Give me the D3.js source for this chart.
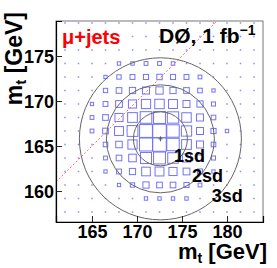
<!DOCTYPE html>
<html>
<head>
<meta charset="utf-8">
<script src="https://cdn.jsdelivr.net/npm/d3@7"></script>
<style>
  html, body { margin: 0; padding: 0; background: #fff; }
  svg { display: block; font-family: "Liberation Sans", Arial, sans-serif; font-weight: bold; }
</style>
</head>
<body>
<svg id="chart" width="277" height="268"></svg>
<script>
// bin centres (GeV)
var xCenters = [162, 163.5, 165, 166.5, 168, 169.5, 171, 172.5, 174, 175.5, 177, 178.5, 180, 181.5, 183];
var yCenters = [178.67, 177.17, 175.67, 174.17, 172.67, 171.17, 169.67, 168.17, 166.67, 165.17, 163.67, 162.17, 160.67, 159.17, 157.67];

// relative box size per bin, rows top -> bottom, columns left -> right
var boxRows = [
  [0.05, 0.05, 0.05, 0.06, 0.06, 0.07, 0.08, 0.08, 0.08, 0.07, 0.06, 0.06, 0.05, 0.05, 0.05],
  [0.05, 0.06, 0.06, 0.08, 0.10, 0.10, 0.12, 0.12, 0.10, 0.09, 0.08, 0.07, 0.06, 0.05, 0.05],
  [0.06, 0.08, 0.08, 0.10, 0.15, 0.15, 0.18, 0.15, 0.15, 0.12, 0.10, 0.08, 0.06, 0.06, 0.05],
  [0.06, 0.08, 0.08, 0.12, 0.25, 0.25, 0.28, 0.28, 0.26, 0.22, 0.18, 0.12, 0.10, 0.08, 0.06],
  [0.06, 0.08, 0.15, 0.24, 0.32, 0.36, 0.38, 0.40, 0.38, 0.36, 0.28, 0.20, 0.12, 0.10, 0.06],
  [0.05, 0.10, 0.20, 0.32, 0.42, 0.46, 0.52, 0.54, 0.46, 0.42, 0.34, 0.24, 0.12, 0.10, 0.06],
  [0.06, 0.10, 0.24, 0.36, 0.50, 0.60, 0.68, 0.70, 0.66, 0.52, 0.46, 0.30, 0.18, 0.12, 0.06],
  [0.06, 0.12, 0.28, 0.42, 0.60, 0.72, 0.86, 0.88, 0.84, 0.70, 0.52, 0.34, 0.22, 0.12, 0.06],
  [0.06, 0.12, 0.28, 0.42, 0.66, 0.80, 0.95, 1.00, 0.92, 0.76, 0.52, 0.38, 0.25, 0.12, 0.07],
  [0.05, 0.08, 0.16, 0.34, 0.48, 0.68, 0.96, 1.00, 0.92, 0.72, 0.52, 0.34, 0.22, 0.12, 0.07],
  [0.05, 0.08, 0.10, 0.28, 0.42, 0.56, 0.82, 0.88, 0.78, 0.60, 0.46, 0.30, 0.20, 0.10, 0.06],
  [0.05, 0.06, 0.08, 0.24, 0.36, 0.46, 0.64, 0.66, 0.60, 0.50, 0.38, 0.24, 0.16, 0.09, 0.06],
  [0.05, 0.06, 0.07, 0.16, 0.24, 0.32, 0.46, 0.42, 0.42, 0.38, 0.28, 0.20, 0.12, 0.08, 0.06],
  [0.05, 0.05, 0.06, 0.08, 0.10, 0.16, 0.25, 0.25, 0.25, 0.25, 0.20, 0.12, 0.08, 0.07, 0.05],
  [0.05, 0.06, 0.06, 0.07, 0.08, 0.10, 0.12, 0.12, 0.12, 0.10, 0.08, 0.06, 0.05, 0.05, 0.05]
];

var binWidth = 1.5;
var fitCenter = [172.6, 165.8];
var sdRadii = [3, 6, 9];
var sdLabels = ['1sd', '2sd', '3sd'];
var sdLabelPos = [[174.1, 163.23], [176.1, 161.0], [178.3, 158.78]];
var diagonal = [161, 179.2];
var xMajor = [165, 170, 175, 180];
var yMajor = [160, 165, 170, 175];

var svg = d3.select('#chart');
var x = d3.scaleLinear().domain([161, 184]).range([56, 263]);
var y = d3.scaleLinear().domain([156.56, 178.89]).range([222, 21]);

var plot = svg.append('g');
plot.append('clipPath').attr('id', 'clip')
  .append('rect').attr('x', 56).attr('y', 21).attr('width', 207).attr('height', 201);

// boxes
var cells = [];
boxRows.forEach(function(row, r) {
  row.forEach(function(v, c) { cells.push({ x: xCenters[c], y: yCenters[r], v: v }); });
});
var bw = x(161 + binWidth) - x(161);
var boxes = plot.append('g').attr('clip-path', 'url(#clip)');
boxes.selectAll('rect.box').data(cells).enter().append('rect')
  .attr('class', 'box')
  .each(function(d) {
    var s = d.v * bw;
    var sel = d3.select(this);
    if (s < 3) {
      s = 1.5;
      sel.attr('fill', '#8c8cff').attr('stroke', 'none');
    } else {
      sel.attr('fill', 'none').attr('stroke', '#7373f7').attr('stroke-width', 1);
    }
    sel.attr('x', x(d.x) - s / 2).attr('y', y(d.y) - s / 2)
      .attr('width', s).attr('height', s);
  });

// diagonal
plot.append('line')
  .attr('x1', x(diagonal[0])).attr('y1', y(diagonal[0]))
  .attr('x2', x(diagonal[1])).attr('y2', y(diagonal[1]))
  .attr('stroke', '#ff6a6a').attr('stroke-width', 1).attr('stroke-dasharray', '2,2')
  .attr('clip-path', 'url(#clip)');

// sigma circles
plot.selectAll('ellipse.sd').data(sdRadii).enter().append('ellipse')
  .attr('class', 'sd')
  .attr('cx', x(fitCenter[0])).attr('cy', y(fitCenter[1]))
  .attr('rx', function(r) { return x(161 + r) - x(161); })
  .attr('ry', function(r) { return y(160) - y(160 + r); })
  .attr('fill', 'none').attr('stroke', '#666').attr('stroke-width', 1)
  .attr('clip-path', 'url(#clip)');

// fit marker
var cx = x(fitCenter[0]), cy = y(fitCenter[1]);
plot.append('path').attr('d', 'M' + (cx - 2) + ',' + cy + 'H' + (cx + 2) + 'M' + cx + ',' + (cy - 2.5) + 'V' + (cy + 2.5))
  .attr('stroke', '#555').attr('stroke-width', 1);

// frame
svg.append('rect').attr('x', 56).attr('y', 21).attr('width', 207).attr('height', 201)
  .attr('fill', 'none').attr('stroke', '#777').attr('stroke-width', 1);

// axes
var gx = svg.append('g').attr('transform', 'translate(0,222)');
gx.call(d3.axisBottom(x).tickValues(d3.range(161, 185)).tickSize(-3).tickFormat(''));
gx.call(d3.axisBottom(x).tickValues(xMajor).tickSize(-6).tickFormat(d3.format('d')));
var gy = svg.append('g').attr('transform', 'translate(56,0)');
gy.call(d3.axisLeft(y).tickValues(d3.range(157, 179)).tickSize(-3).tickFormat(''));
gy.call(d3.axisLeft(y).tickValues(yMajor).tickSize(-6).tickFormat(d3.format('d')));
svg.selectAll('.domain').attr('stroke', '#000').attr('stroke-width', 1.2);
svg.selectAll('.tick line').attr('stroke', '#222');
[gx, gy].forEach(function(g) {
  g.attr('font-size', 18).attr('font-family', '"Liberation Sans", Arial, sans-serif').attr('font-weight', 'bold');
});
gx.selectAll('.tick text').attr('y', 3).attr('dy', '0.71em').attr('fill', '#000');
gy.selectAll('.tick text').attr('x', -2).attr('dy', '0.36em').attr('fill', '#000');

// axis titles
var xt = svg.append('text').attr('x', 267).attr('y', 259).attr('text-anchor', 'end')
  .style('font-size', '22px');
xt.append('tspan').text('m');
xt.append('tspan').attr('dy', 4).style('font-size', '14px').text('t');
xt.append('tspan').attr('dy', -4).text(' [GeV]');

var yt = svg.append('text').attr('transform', 'translate(22,12) rotate(-90)').attr('text-anchor', 'end')
  .style('font-size', '23px');
yt.append('tspan').text('m');
yt.append('tspan').attr('dy', 4).style('font-size', '15px').text('t');
yt.append('tspan').attr('dy', -4).text(' [GeV]');

// labels
svg.append('text').attr('x', 62).attr('y', 44).attr('fill', '#ff0000')
  .style('font-size', '20px').text('\u03bc+jets');
var d0 = svg.append('text').attr('x', 159).attr('y', 43).style('font-size', '21px');
d0.append('tspan').text('D\u00d8, 1 fb');
d0.append('tspan').attr('dy', -8).style('font-size', '14px').text('\u22121');

svg.selectAll('text.sdl').data(sdLabels).enter().append('text')
  .attr('class', 'sdl')
  .attr('x', function(d, i) { return x(sdLabelPos[i][0]); })
  .attr('y', function(d, i) { return y(sdLabelPos[i][1]); })
  .style('font-size', '18px')
  .text(function(d) { return d; });
</script>
</body>
</html>
